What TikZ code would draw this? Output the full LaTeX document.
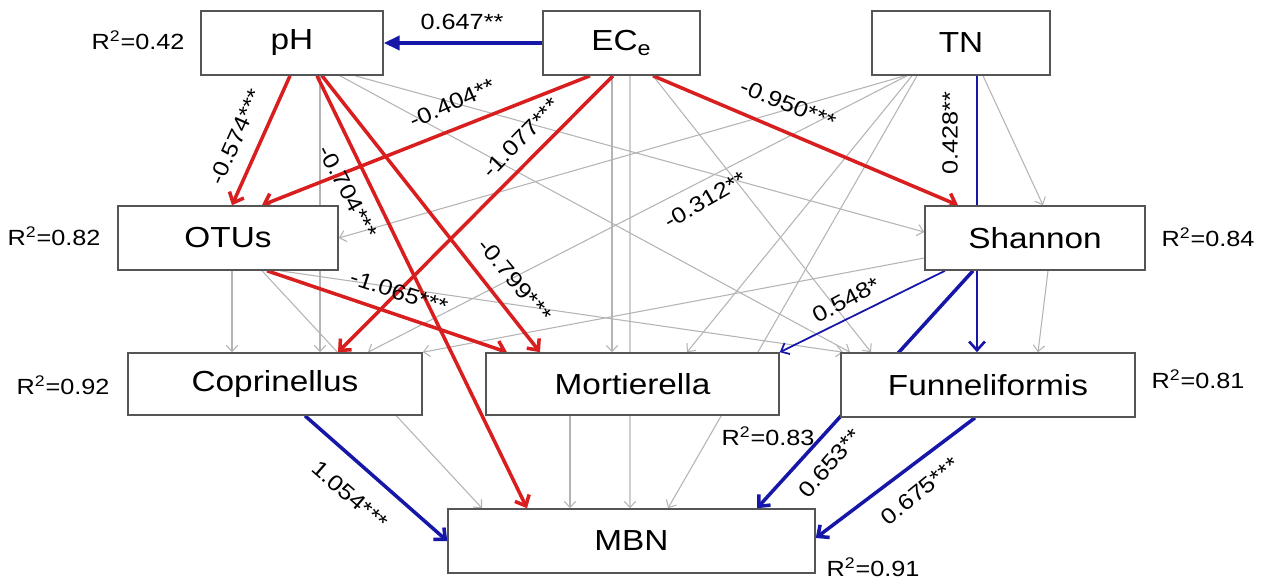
\documentclass[tikz,border=0pt]{standalone}
\usepackage{fontspec}
\setmainfont{Liberation Sans}[FakeStretch=1.15]
\usetikzlibrary{arrows.meta,calc}
\pgfdeclarelayer{bg}
\pgfdeclarelayer{edges}
\pgfsetlayers{bg,edges,main}
\definecolor{redc}{RGB}{216,30,30}
\definecolor{bluec}{RGB}{22,22,168}
\definecolor{grayc}{RGB}{180,180,180}
\definecolor{boxc}{RGB}{85,85,85}
\begin{document}
\begin{tikzpicture}[x=0.02cm,y=-0.02cm,
  box/.style={draw=boxc, line width=0.9pt, fill=white, inner sep=0pt,
    minimum height=1.28cm, font=\fontsize{16.5}{18}\selectfont},
  lbl/.style={font=\fontsize{12.5}{14}\selectfont, inner sep=1pt},
  grayarr/.style={draw=grayc, line width=0.6pt, -{Straight Barb[length=3.5pt,width=6.5pt]}},
  redarr/.style={draw=redc, line width=2pt, -{Straight Barb[length=5pt,width=9pt]}},
  bluearr/.style={draw=bluec, line width=2pt, -{Straight Barb[length=5pt,width=9pt]}},
  thinblue/.style={draw=bluec, line width=1pt, -{Straight Barb[length=4pt,width=7pt]}}
]
\begin{pgfonlayer}{bg}
\fill[white] (0,0) rectangle (1266,581);
\end{pgfonlayer}
\useasboundingbox (0,0) rectangle (1266,581);

% boxes
\node[box, minimum width=3.64cm] (pH)  at (292,43) {pH};
\node[box, minimum width=3.14cm] (ECe) at (621.5,43) {EC\textsubscript{e}};
\node[box, minimum width=3.56cm] (TN)  at (961,43) {TN};
\node[box, minimum width=4.4cm] (OTUs) at (228,238) {OTUs};
\node[box, minimum width=4.4cm] (Sha)  at (1035,238) {Shannon};
\node[box, minimum width=5.88cm, minimum height=1.24cm] (Cop) at (275,384) {Coprinellus};
\node[box, minimum width=5.86cm, minimum height=1.24cm] (Mor) at (632.5,384) {Mortierella};
\node[box, minimum width=5.88cm] (Fun) at (988,385) {Funneliformis};
\node[box, minimum width=7.34cm] (MBN) at (631.5,541) {MBN};

% R2 labels
\node[lbl] (r1) at (138,40) {R\textsuperscript{2}=0.42};
\node[lbl] (r2) at (54,236) {R\textsuperscript{2}=0.82};
\node[lbl] (r3) at (63,385) {R\textsuperscript{2}=0.92};
\node[lbl] (r4) at (1208,237) {R\textsuperscript{2}=0.84};
\node[lbl] (r5) at (1198,379) {R\textsuperscript{2}=0.81};
\node[lbl] (r6) at (768,436) {R\textsuperscript{2}=0.83};
\node[lbl] (r7) at (873,567) {R\textsuperscript{2}=0.91};

\begin{pgfonlayer}{edges}
% gray paths
\draw[grayarr] ($(pH.south)+(63,0)$) -- ($(Sha.west)+(0,-6)$);
\draw[grayarr] ($(pH.south)+(48,0)$) -- ($(Fun.north)+(-138,0)$);
\draw[grayarr] ($(pH.south)+(28,0)$) -- ($(Cop.north)+(45,0)$);
\draw[grayarr] ($(ECe.south)+(-9.5,0)$) -- ($(Mor.north)+(-20.5,0)$);
\draw[grayarr] ($(ECe.south)+(8.5,0)$) -- ($(MBN.north)+(-1.5,0)$);
\draw[grayarr] ($(ECe.south)+(31.5,0)$) -- ($(Fun.north)+(-117,0)$);
\draw[grayarr] ($(TN.south)+(-56,0)$) -- (OTUs.east);
\draw[grayarr] ($(TN.south)+(-54,0)$) -- ($(Cop.north)+(93,0)$);
\draw[grayarr] ($(TN.south)+(-49,0)$) -- ($(Mor.north)+(54.5,0)$);
\draw[grayarr] ($(TN.south)+(-44,0)$) -- ($(MBN.north)+(36.5,0)$);
\draw[grayarr] ($(TN.south)+(22,0)$) -- ($(Sha.north)+(8,0)$);
\draw[grayarr] ($(OTUs.south)+(4,0)$) -- ($(Cop.north)+(-43,0)$);
\draw[grayarr] ($(OTUs.south)+(52,0)$) -- ($(Fun.north)+(-145,0)$);
\draw[grayarr] ($(OTUs.south)+(34,0)$) -- ($(MBN.north)+(-149.5,0)$);
\draw[grayarr] ($(Sha.west)+(0,20)$) -- (Cop.north east);
\draw[grayarr] ($(Sha.south)+(13,0)$) -- ($(Fun.north)+(50,0)$);
\draw[grayarr] ($(Mor.south)+(-62.5,0)$) -- ($(MBN.north)+(-61.5,0)$);
% red paths
\draw[redarr] ($(pH.south)+(-2,0)$) -- ($(OTUs.north)+(4,0)$);
\draw[redarr] ($(ECe.south)+(-31.5,0)$) -- ($(OTUs.north)+(34,0)$);
\draw[redarr] ($(ECe.south)+(-8.5,0)$) -- ($(Cop.north)+(63,0)$);
\draw[redarr] ($(ECe.south)+(31.5,0)$) -- ($(Sha.north)+(-77,0)$);
\draw[redarr] ($(pH.south)+(30,0)$) -- ($(Mor.north)+(-92.5,0)$);
\draw[redarr] ($(pH.south)+(25,0)$) -- ($(MBN.north)+(-104.5,0)$);
\draw[redarr] ($(OTUs.south)+(39,0)$) -- ($(Mor.north)+(-125.5,0)$);
% blue paths
\draw[bluearr, -{Triangle[length=9pt,width=8pt]}] (ECe.west) -- (pH.east);
\draw[bluearr, line width=1.5pt] ($(TN.south)+(16,0)$) -- ($(Fun.north)+(-11,0)$);
\draw[thinblue] ($(Sha.south)+(-90,0)$) -- (Mor.north east);
\draw[bluearr] ($(Sha.south)+(-62,0)$) -- ($(MBN.north)+(125.5,0)$);
\draw[bluearr] ($(Fun.south)+(-13,0)$) -- ($(MBN.east)+(0,-3)$);
\draw[bluearr] ($(Cop.south)+(30,0)$) -- (MBN.west);
\end{pgfonlayer}

% path coefficients
\node[lbl] (c1) at (462,22) {0.647**};
\node[lbl, rotate=66] (c2) at (236,137) {-0.574***};
\node[lbl, rotate=24] (c3) at (452,103) {-0.404**};
\node[lbl, rotate=46] (c4) at (521,138) {-1.077***};
\node[lbl, rotate=-22] (c5) at (788,104) {-0.950***};
\node[lbl, rotate=-62] (c6) at (348,192) {-0.704***};
\node[lbl, rotate=-50] (c7) at (515,280) {-0.799***};
\node[lbl, rotate=-18] (c8) at (399,292) {-1.065***};
\node[lbl, rotate=30] (c9) at (705,200) {-0.312**};
\node[lbl, rotate=90] (c10) at (950,133) {0.428**};
\node[lbl, rotate=28] (c11) at (846,300) {0.548*};
\node[lbl, rotate=49] (c12) at (830,463) {0.653**};
\node[lbl, rotate=39] (c13) at (920,491) {0.675***};
\node[lbl, rotate=-41] (c14) at (350,495) {1.054***};
\end{tikzpicture}
\end{document}
